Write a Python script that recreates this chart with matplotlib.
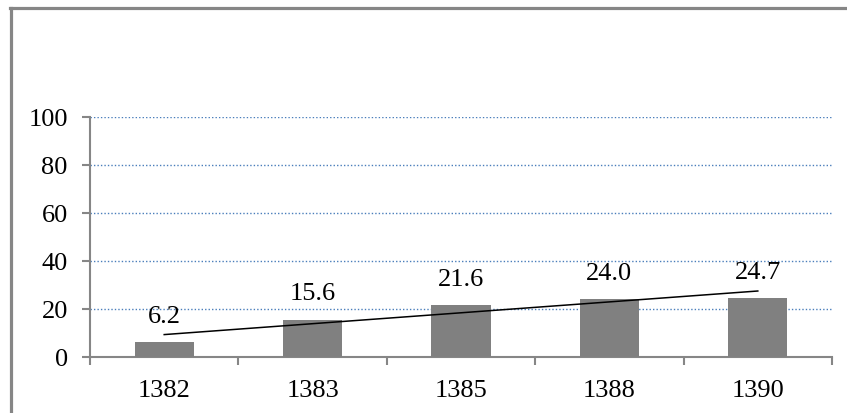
import matplotlib.pyplot as plt
from matplotlib.lines import Line2D
import numpy as np

years = ['1382', '1383', '1385', '1388', '1390']
values = [6.2, 15.6, 21.6, 24.0, 24.7]
y_ticks = [0, 20, 40, 60, 80, 100]

plt.rcParams['font.family'] = 'Liberation Serif'

fig = plt.figure(figsize=(8.47, 4.14), dpi=100)
ax = fig.add_axes([90 / 847, 1 - 358 / 414, 742 / 847, 240 / 414])

x = np.arange(len(years))
ax.bar(x, values, width=0.4, color='#808080', zorder=3)

# linear trend through the bar values
slope, intercept = np.polyfit(x, values, 1)
ax.plot([x[0], x[-1]], [intercept, slope * x[-1] + intercept],
        color='black', linewidth=1.1, zorder=4)

for xi, v in zip(x, values):
    ax.annotate(f'{v:.1f}', (xi, v), xytext=(0, 14.5), textcoords='offset points',
                ha='center', va='baseline', fontsize=19, color='black')

ax.set_xlim(-0.5, len(years) - 0.5)
ax.set_ylim(0, 100)
ax.set_yticks(y_ticks)
ax.set_xticks(x)
ax.set_xticklabels(years)
ax.set_xticks(np.arange(-0.5, len(years)), minor=True)

ax.yaxis.grid(True, color='#4a7ebb', linestyle=(0, (1, 1.5)), linewidth=1.0, zorder=0)
ax.set_axisbelow(True)

for side in ['top', 'right']:
    ax.spines[side].set_visible(False)
for side in ['left', 'bottom']:
    ax.spines[side].set_color('#868686')
    ax.spines[side].set_linewidth(1.5)

ax.tick_params(axis='y', length=6, width=1.5, color='#868686', pad=10, labelsize=19)
ax.tick_params(axis='x', which='major', length=0, pad=16, labelsize=19)
ax.tick_params(axis='x', which='minor', length=6, width=1.5, color='#868686')

# outer chart frame (top and left edges)
fig.add_artist(Line2D([11 / 847, 11 / 847], [0, 1 - 9 / 414], color='#868686',
                      linewidth=2.3, transform=fig.transFigure))
fig.add_artist(Line2D([10 / 847, 1], [1 - 9 / 414, 1 - 9 / 414], color='#868686',
                      linewidth=2.3, transform=fig.transFigure))

fig.savefig('out.png', dpi=100)
